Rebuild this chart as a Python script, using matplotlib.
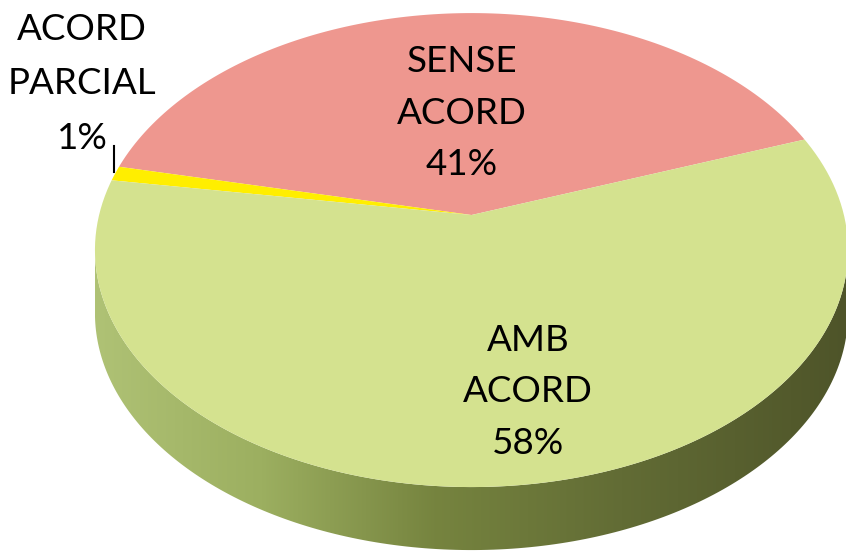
import numpy as np
import matplotlib
matplotlib.use("Agg")
import matplotlib.pyplot as plt
import matplotlib.transforms as mtransforms
from matplotlib.path import Path
from matplotlib.patches import Polygon
from matplotlib.colors import LinearSegmentedColormap

# data
labels = ["SENSE\nACORD\n41%", "ACORD\nPARCIAL\n1%", "AMB\nACORD\n58%"]
values = [41, 1, 58]
colors = ["#EE978F", "#FFEE00", "#D4E28F"]


class Perspective(mtransforms.Transform):
    """Maps the unit pie onto a tilted disc seen in perspective (pixel space)."""
    input_dims = output_dims = 2

    def __init__(self, cx, cy, rx, ry, k, drop=0.0):
        super().__init__()
        self.cx, self.cy, self.rx, self.ry, self.k, self.drop = cx, cy, rx, ry, k, drop

    def transform_non_affine(self, pts):
        pts = np.asarray(pts, float)
        u, v = pts[:, 0], pts[:, 1]
        w = 1 + self.k * v
        return np.column_stack([self.cx + self.rx * u / w,
                                self.cy - self.ry * v / w + self.drop])

    def transform_path_non_affine(self, path):
        s = 1000.0
        polys = path.transformed(mtransforms.Affine2D().scale(s)).to_polygons(closed_only=True)
        parts = [Path(self.transform_non_affine(p / s), closed=True) for p in polys]
        return Path.make_compound_path(*parts)


fig = plt.figure(figsize=(8.46, 5.58), dpi=100)
ax = fig.add_axes([0, 0, 1, 1])

wedges, _ = ax.pie(values, colors=colors, startangle=20, counterclock=True,
                   wedgeprops=dict(linewidth=0))
ax.set_aspect("auto")
ax.axis("off")

k = 0.148
persp = Perspective(cx=471.5, cy=215, rx=372.4, ry=231.8, k=k)
for w in wedges:
    w.set_transform(persp + ax.transData)
    w.set_zorder(3)

# side wall of the disc
depth = 63
a0 = np.pi + np.arcsin(k)
a1 = 2 * np.pi - np.arcsin(k)
th = np.linspace(a0, a1, 200)
rim = persp.transform_non_affine(np.column_stack([np.cos(th), np.sin(th)]))
low = rim + np.array([0, depth])
wall = Polygon(np.vstack([rim, low[::-1]]), closed=True, facecolor="none",
               edgecolor="none", transform=ax.transData)
ax.add_patch(wall)
wall_cmap = LinearSegmentedColormap.from_list(
    "wall", [(0.0, "#AFC275"), (0.22, "#9CAF60"), (0.45, "#76843F"),
             (0.7, "#626C35"), (1.0, "#4E5429")])
grad = np.linspace(0, 1, 256).reshape(1, -1)
im = ax.imshow(grad, cmap=wall_cmap, extent=(rim[:, 0].min(), rim[:, 0].max(), 560, 0),
               aspect="auto", zorder=2)
im.set_clip_path(wall)
ax.set_xlim(0, 846)
ax.set_ylim(558, 0)

# labels
font = dict(family="Lato", fontsize=26.5, color="black", ha="center", va="center")
ax.text(462, 113, labels[0], zorder=5, linespacing=1.7, **font)
ax.text(82, 84, labels[1], zorder=5, linespacing=1.8, **font)
ax.text(528, 392, labels[2], zorder=5, linespacing=1.7, **font)

# leader for the small slice
mid = np.deg2rad(20 + 360 * (values[0] + values[1] / 2) / sum(values))
ex, ey = persp.transform_non_affine(np.array([[np.cos(mid), np.sin(mid)]]))[0]
ax.plot([ex - 1, ex - 1], [ey - 1, ey - 27], color="black", lw=1.5, zorder=5)

fig.savefig("out.png", dpi=100)
